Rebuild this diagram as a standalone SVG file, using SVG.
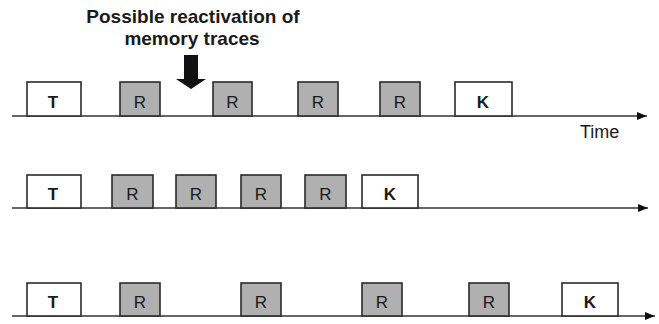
<svg xmlns="http://www.w3.org/2000/svg" width="659" height="324" viewBox="0 0 659 324">
<style>
.b{stroke:#2b2b2b;stroke-width:1.6}
.w{fill:#ffffff}
.g{fill:#b0b0b0}
.tl{stroke:#333;stroke-width:1.5;fill:none}
.lb{font-family:"Liberation Sans",Arial,sans-serif;font-size:17px;fill:#1a1a1a;text-anchor:middle}
.bd{font-weight:bold}
.ttl{font-family:"Liberation Sans",Arial,sans-serif;font-size:19px;font-weight:bold;fill:#1a1a1a;text-anchor:middle}
.time{font-family:"Liberation Sans",Arial,sans-serif;font-size:18px;fill:#1a1a1a}
</style>
<defs>
<marker id="ah" markerWidth="10" markerHeight="8" refX="10" refY="4" orient="auto" markerUnits="userSpaceOnUse">
<path d="M0,0 L10,4 L0,8 Z" fill="#111"/>
</marker>
</defs>
<rect width="659" height="324" fill="#ffffff"/>
<g id="connectors">
<line class="tl" x1="12" y1="116" x2="647" y2="116" marker-end="url(#ah)"/>
<line class="tl" x1="12" y1="208" x2="648" y2="208" marker-end="url(#ah)"/>
<line class="tl" x1="12" y1="316" x2="655" y2="316" marker-end="url(#ah)"/>
</g>
<g id="annotation">
<text class="ttl" x="193" y="23">Possible reactivation of</text>
<text class="ttl" x="192" y="45">memory traces</text>
<path d="M184,55 H198 V79 H206 L191,89 L176,79 H184 Z" fill="#111"/>
<text class="time" x="580" y="137.5">Time</text>
</g>
<g id="row1">
<g id="r1-T"><rect class="b w" x="27" y="82" width="54" height="34"/><text class="lb bd" x="53" y="107.5">T</text></g>
<g id="r1-R1"><rect class="b g" x="120" y="82" width="40" height="34"/><text class="lb" x="140" y="107.5">R</text></g>
<g id="r1-R2"><rect class="b g" x="213" y="82" width="39" height="34"/><text class="lb" x="232.5" y="107.5">R</text></g>
<g id="r1-R3"><rect class="b g" x="298" y="82" width="40" height="34"/><text class="lb" x="318" y="107.5">R</text></g>
<g id="r1-R4"><rect class="b g" x="380" y="82" width="40" height="34"/><text class="lb" x="400" y="107.5">R</text></g>
<g id="r1-K"><rect class="b w" x="455" y="82" width="57" height="34"/><text class="lb bd" x="483" y="107.5">K</text></g>
</g>
<g id="row2">
<g id="r2-T"><rect class="b w" x="27" y="175" width="54" height="33"/><text class="lb bd" x="53" y="200">T</text></g>
<g id="r2-R1"><rect class="b g" x="112" y="175" width="41" height="33"/><text class="lb" x="132.5" y="200">R</text></g>
<g id="r2-R2"><rect class="b g" x="176" y="175" width="40" height="33"/><text class="lb" x="196" y="200">R</text></g>
<g id="r2-R3"><rect class="b g" x="241" y="175" width="40" height="33"/><text class="lb" x="261" y="200">R</text></g>
<g id="r2-R4"><rect class="b g" x="305" y="175" width="41" height="33"/><text class="lb" x="325.5" y="200">R</text></g>
<g id="r2-K"><rect class="b w" x="362" y="175" width="56" height="33"/><text class="lb bd" x="390" y="200">K</text></g>
</g>
<g id="row3">
<g id="r3-T"><rect class="b w" x="27" y="283" width="54" height="33"/><text class="lb bd" x="53" y="308">T</text></g>
<g id="r3-R1"><rect class="b g" x="120" y="283" width="40" height="33"/><text class="lb" x="140" y="308">R</text></g>
<g id="r3-R2"><rect class="b g" x="241" y="283" width="40" height="33"/><text class="lb" x="261" y="308">R</text></g>
<g id="r3-R3"><rect class="b g" x="362" y="283" width="40" height="33"/><text class="lb" x="382" y="308">R</text></g>
<g id="r3-R4"><rect class="b g" x="469" y="283" width="40" height="33"/><text class="lb" x="489" y="308">R</text></g>
<g id="r3-K"><rect class="b w" x="562" y="283" width="56" height="33"/><text class="lb bd" x="590" y="308">K</text></g>
</g>
</svg>
